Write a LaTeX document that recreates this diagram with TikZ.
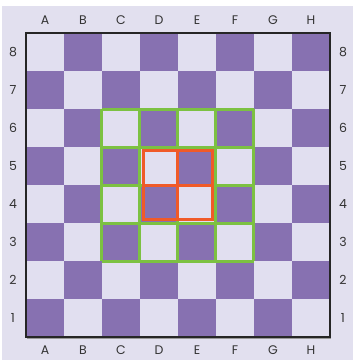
\documentclass[tikz,border=0pt]{standalone}
\usepackage{fontspec}
\setmainfont{Poppins}
\definecolor{bgl}{HTML}{E2E0EF}
\definecolor{lightsq}{HTML}{E1DFF0}
\definecolor{darksq}{HTML}{8771B1}
\definecolor{gline}{HTML}{7CC142}
\definecolor{oline}{HTML}{F05A28}
\definecolor{txt}{HTML}{333333}
\begin{document}
\begin{tikzpicture}[x=1pt,y=-1pt,
  lbl/.style={font=\fontsize{12.5}{14}\selectfont,text=txt,inner sep=0pt},
  gsty/.style={draw=gline,line width=3pt},
  osty/.style={draw=oline,line width=3pt}]
\useasboundingbox (0,0) rectangle (353,360);
\fill[white] (0,0) rectangle (353,360);
\fill[bgl] (2,6) rectangle (353,360);
% shadow
\fill[black!40] (27.5,34.5) rectangle (331.5,338.5);
% squares
\foreach \i in {0,...,7}{
  \foreach \r in {0,...,7}{
    \pgfmathtruncatemacro{\sqpar}{mod(\i+\r,2)}
    \ifnum\sqpar=0
      \fill[lightsq] (26+38*\i,33+38*\r) rectangle ++(38,38);
    \else
      \fill[darksq] (26+38*\i,33+38*\r) rectangle ++(38,38);
    \fi
  }
}
\draw[black!85,line width=1.3pt] (26,33) rectangle (330,337);
% green 4x4 grid (C3-F6)
\foreach \k in {0,...,4}{
  \draw[gsty] (102+38*\k,109) -- (102+38*\k,261);
  \draw[gsty] (102,109+38*\k) -- (254,109+38*\k);
}
% orange 2x2 (D4-E5)
\draw[osty] (143.5,150.5) rectangle (212.5,219.5);
\draw[osty] (178,150.5) -- (178,219.5);
\draw[osty] (143.5,185) -- (212.5,185);
% labels
\foreach \c [count=\n from 0] in {A,B,C,D,E,F,G,H}{
  \node[lbl] (top\c) at (45+38*\n,20) {\c};
  \node[lbl] (bot\c) at (45+38*\n,350) {\c};
}
\foreach \n in {1,...,8}{
  \node[lbl] (left\n) at (13,52+38*8-38*\n) {\n};
  \node[lbl] (right\n) at (343,52+38*8-38*\n) {\n};
}
\end{tikzpicture}
\end{document}
